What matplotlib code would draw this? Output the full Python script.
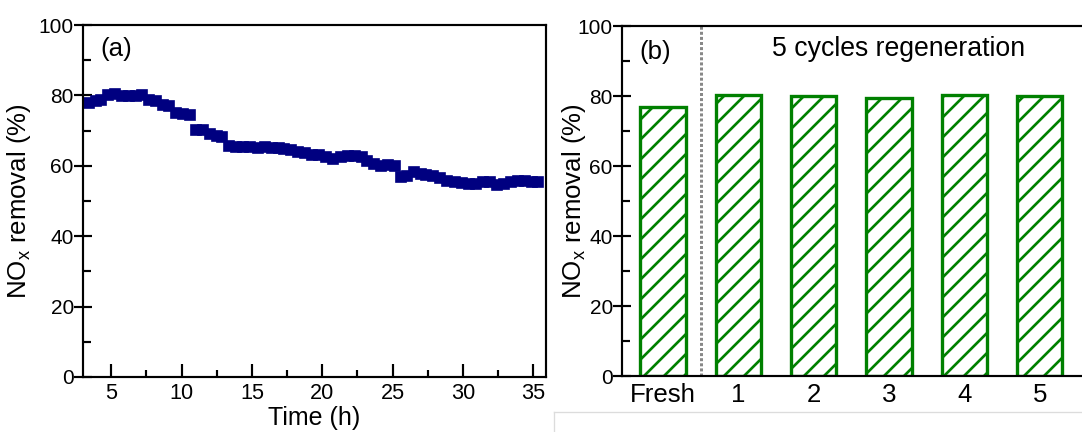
import matplotlib
matplotlib.use("Agg")
import matplotlib.pyplot as plt
from matplotlib.lines import Line2D
import matplotlib.ticker as ticker

plt.rcParams.update({
    'font.family': ['Liberation Sans', 'DejaVu Sans'],
    'mathtext.fontset': 'custom',
    'mathtext.rm': 'Liberation Sans',
    'mathtext.it': 'Liberation Sans',
    'hatch.linewidth': 1.6,
    'axes.linewidth': 1.3,
})

# (a) stability test
time_h = [3.4, 3.9, 4.3, 4.8, 5.3, 5.8, 6.3, 6.8, 7.2, 7.7, 8.2, 8.7, 9.1, 9.6,
          10.1, 10.6, 11.0, 11.5, 12.0, 12.5, 12.9, 13.4, 13.9, 14.4, 14.9,
          15.4, 15.9, 16.4, 16.9, 17.3, 17.8, 18.3, 18.8, 19.3, 19.8, 20.3,
          20.8, 21.3, 21.8, 22.3, 22.8, 23.2, 23.7, 24.2, 24.7, 25.2, 25.6,
          26.0, 26.5, 27.0, 27.4, 27.9, 28.4, 28.9, 29.4, 29.9, 30.4, 30.9,
          31.4, 31.9, 32.4, 32.9, 33.4, 33.9, 34.4, 34.9, 35.3]
removal = [77.9, 78.3, 78.8, 80.1, 80.3, 79.9, 79.8, 79.7, 80.0, 78.8, 78.5,
           77.4, 77.1, 75.0, 74.7, 74.4, 70.3, 70.1, 69.0, 68.6, 68.1, 65.5,
           65.3, 65.2, 65.2, 65.1, 65.2, 65.0, 65.0, 64.7, 64.4, 64.0, 63.6,
           63.1, 63.0, 62.6, 62.0, 62.6, 62.8, 62.8, 62.5, 61.5, 60.5, 59.9,
           60.2, 60.0, 56.9, 57.0, 58.3, 57.8, 57.4, 57.0, 56.5, 55.8, 55.5,
           55.0, 54.8, 54.8, 55.3, 55.3, 54.6, 54.8, 55.5, 55.7, 55.7, 55.4,
           55.5]

# (b) regeneration cycles
cycle_labels = ['Fresh', '1', '2', '3', '4', '5']
cycle_removal = [77.0, 80.3, 80.0, 79.4, 80.4, 80.0]

NAVY = '#000080'
GREEN = '#008000'
YLABEL = 'NO$_{\\mathregular{x}}$ removal (%)'
LABEL_FS = 15.5

W, H, DPI = 1082, 432, 120
fig = plt.figure(figsize=(W / DPI, H / DPI), dpi=DPI)
fig.patch.set_facecolor('white')


def frac(x0, y0, x1, y1):
    # pixel box (top-left origin) -> figure fraction rect
    return [x0 / W, 1 - y1 / H, (x1 - x0) / W, (y1 - y0) / H]


def style_y(ax):
    ax.set_ylim(0, 100)
    ax.yaxis.set_major_locator(ticker.MultipleLocator(20))
    ax.yaxis.set_minor_locator(ticker.MultipleLocator(10))
    ax.tick_params(axis='y', which='major', direction='inout', length=11,
                   width=1.3, labelsize=12.5, pad=0)
    ax.tick_params(axis='y', which='minor', direction='in', length=4.5,
                   width=1.3)


# ---- panel (a)
ax1 = fig.add_axes(frac(83, 25, 546, 377))
ax1.plot(time_h, removal, linestyle='none', marker='s', markersize=6.4,
         color=NAVY, markeredgecolor=NAVY)
ax1.set_xlim(3, 35.9)
style_y(ax1)
ax1.xaxis.set_major_locator(ticker.MultipleLocator(5))
ax1.xaxis.set_minor_locator(ticker.MultipleLocator(2.5))
ax1.tick_params(axis='x', which='major', direction='in', length=8,
                width=1.3, labelsize=13, pad=3.5)
ax1.tick_params(axis='x', which='minor', direction='in', length=4,
                width=1.3)
ax1.set_xlabel('Time (h)', fontsize=15)
ax1.xaxis.set_label_coords(0.5, -0.083)
ax1.set_ylabel(YLABEL, fontsize=LABEL_FS)
ax1.yaxis.set_label_coords(-0.108, 0.5)
ax1.text(0.071, 0.932, '(a)', transform=ax1.transAxes, fontsize=LABEL_FS,
         ha='center', va='center')

# ---- panel (b)
ax2 = fig.add_axes(frac(622, 26, 1100, 376))
xs = list(range(len(cycle_labels)))
ax2.bar(xs, cycle_removal, width=0.6, facecolor='white', edgecolor=GREEN,
        linewidth=2.0, hatch='//')
ax2.axvline(0.5, color='#888888', linewidth=1.8, linestyle=(0, (1, 0.7)))
ax2.set_xlim(-0.545, 5.8)
style_y(ax2)
ax2.set_xticks(xs)
ax2.set_xticklabels(cycle_labels)
ax2.tick_params(axis='x', which='both', length=0, labelsize=LABEL_FS, pad=4)
ax2.spines['right'].set_visible(False)
ax2.set_ylabel(YLABEL, fontsize=LABEL_FS)
ax2.yaxis.set_label_coords(-0.071, 0.5)
ax2.text(-0.1, 92.6, '(b)', fontsize=LABEL_FS, ha='center', va='center')
ax2.text(3.12, 93.3, '5 cycles regeneration', fontsize=16,
         ha='center', va='center')

# faint frame edge seen under panel (b)
fig.add_artist(Line2D([554 / W, 1.0], [1 - 412 / H, 1 - 412 / H],
                      transform=fig.transFigure, color='#dcdcdc', lw=0.8))
fig.add_artist(Line2D([554 / W, 554 / W], [0, 1 - 412 / H],
                      transform=fig.transFigure, color='#dcdcdc', lw=0.8))

fig.savefig('out.png', dpi=DPI, facecolor='white')
